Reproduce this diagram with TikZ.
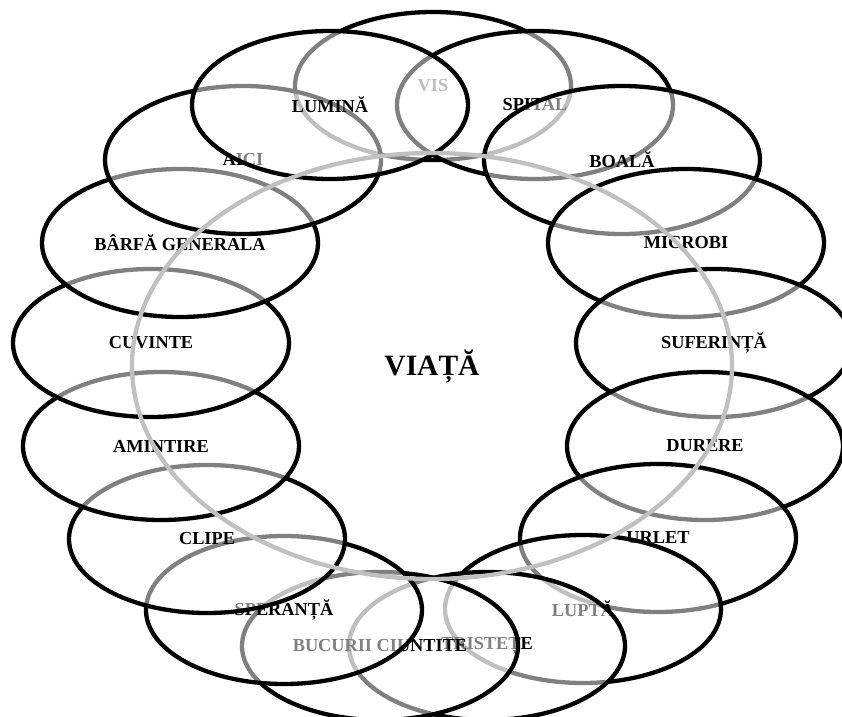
\documentclass[tikz,border=0pt]{standalone}
\usepackage{fontspec}
\setmainfont{Liberation Serif}
\usetikzlibrary{shapes.geometric}
\definecolor{ringgray}{HTML}{C0C0C0}
\tikzset{
  petal/.style={ellipse, draw=black, line width=4.3bp, fill=white, fill opacity=0.5,
    draw opacity=1, text opacity=1, minimum width=276bp, minimum height=148bp,
    inner sep=0pt, font=\fontsize{18.3bp}{20bp}\selectfont\bfseries},
  core/.style={ellipse, draw=ringgray, line width=4.3bp, minimum width=600bp,
    minimum height=426bp, inner sep=0pt, font=\fontsize{29.5bp}{32bp}\selectfont\bfseries}
}
\begin{document}
\begin{tikzpicture}[x=1bp,y=-1bp]
\useasboundingbox[fill=white] (0,0) rectangle (842,717);
\node[petal] (vis) at (433,86) {VIS};
\node[petal] (spital) at (535,105) {SPITAL};
\node[petal] (boala) at (622,160) {BOALĂ};
\node[petal] (microbi) at (686,243) {MICROBI};
\node[petal] (suferinta) at (714,343) {SUFERINȚĂ};
\node[petal] (durere) at (705,446) {DURERE};
\node[petal] (urlet) at (658,538) {URLET};
\node[petal] (lupta) at (583,609) {LUPTĂ};
\node[petal] (tristete) at (487,646) {TRISTEȚE};
\node[petal] (bucurii) at (380,646) {BUCURII CIUNTITE};
\node[petal] (speranta) at (284,610) {SPERANȚĂ};
\node[petal] (clipe) at (207,539) {CLIPE};
\node[petal] (amintire) at (161,446) {AMINTIRE};
\node[petal] (cuvinte) at (151,343) {CUVINTE};
\node[petal] (barfa) at (180,243) {BÂRFĂ GENERALA};
\node[petal] (aici) at (243,160) {AICI};
\node[petal] (lumina) at (330,105) {LUMINĂ};
\node[core] (viata) at (432,366) {VIAȚĂ};
\end{tikzpicture}
\end{document}
